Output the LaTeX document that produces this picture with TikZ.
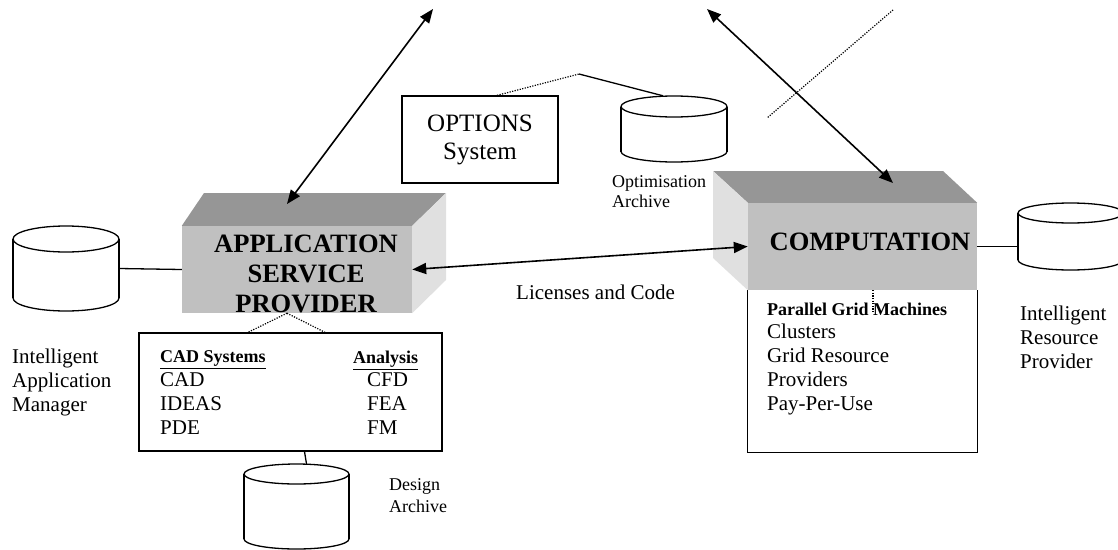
\documentclass[tikz,border=0pt]{standalone}
\usepackage{fontspec}
\setmainfont{Liberation Serif}
\usetikzlibrary{arrows.meta}
\definecolor{facegray}{RGB}{192,192,192}
\definecolor{topgray}{RGB}{150,150,150}
\definecolor{sidegray}{RGB}{224,224,224}
% database drum: name, centre x, centre y, width, height, rim radius
\newcommand\dbcyl[6]{%
  \node[minimum width=#4pt,minimum height=#5pt,inner sep=0pt] (#1) at (#2,#3) {};
  \fill[white] ({#2-#4/2},{#3-#5/2+#6}) rectangle ({#2+#4/2},{#3+#5/2-#6});
  \fill[white] (#2,{#3+#5/2-#6}) ellipse [x radius=#4/2, y radius=#6];
  \begin{scope}
    \clip ({#2-#4/2-2},{#3+#5/2-#6}) rectangle ({#2+#4/2+2},{#3+#5/2+2});
    \draw[link] (#2,{#3+#5/2-#6}) ellipse [x radius=#4/2, y radius=#6];
  \end{scope}
  \draw[link] ({#2-#4/2},{#3-#5/2+#6}) -- ({#2-#4/2},{#3+#5/2-#6});
  \draw[link] ({#2+#4/2},{#3-#5/2+#6}) -- ({#2+#4/2},{#3+#5/2-#6});
  \draw[link] (#2,{#3-#5/2+#6}) ellipse [x radius=#4/2, y radius=#6];
}
\begin{document}
\begin{tikzpicture}[x=1pt,y=-1pt,
    txt/.style={font=\fontsize{21}{24}\selectfont,align=left,inner sep=0pt,anchor=north west},
    small/.style={font=\fontsize{18}{21}\selectfont,align=left,inner sep=0pt,anchor=north west},
    head/.style={font=\fontsize{18}{21}\selectfont\bfseries,inner sep=0pt,anchor=north west},
    title/.style={font=\fontsize{26.5}{30}\selectfont\bfseries,align=center,inner sep=0pt},
    face/.style={rectangle,fill=facegray,inner sep=0pt},
    link/.style={line width=1.3pt},
    dots/.style={line width=1.2pt,dash pattern=on 1.2pt off 1.4pt},
    both/.style={line width=1.6pt,{Triangle[length=14pt,width=11pt]}-{Triangle[length=14pt,width=11pt]}}]
  \useasboundingbox (0,0) rectangle (1118,549);

  % application service provider
  \node[face,minimum width=230pt,minimum height=87pt] (aps) at (297,269.5) {};
  \fill[topgray] (aps.north west) -- (204,193) -- (446,193) -- (aps.north east) -- cycle;
  \fill[sidegray] (aps.north east) -- (446,193) -- (446,280) -- (aps.south east) -- cycle;
  \node[title,anchor=north] (apstitle) at (306,234.5) {APPLICATION\\SERVICE\\PROVIDER};

  % computation
  \node[minimum width=229pt,minimum height=162pt,inner sep=0pt] (grid) at (862.5,371) {};
  \draw[link] (grid.north west) |- (grid.south east) -- (grid.north east);
  \node[face,minimum width=229pt,minimum height=87pt] (comp) at (862.5,246.5) {};
  \fill[topgray] (713,171) -- (943,171) -- (comp.north east) -- (comp.north west) -- cycle;
  \fill[sidegray] (713,171) -- (comp.north west) -- (comp.south west) -- (713,258) -- cycle;
  \node[title,anchor=base] (comptitle) at (870,250) {COMPUTATION};
  \node[txt,font=\fontsize{21}{23.8}\selectfont] (gridtext) at (767,302.5)
    {{\fontsize{18}{24}\selectfont\bfseries Parallel Grid Machines}\\Clusters\\Grid Resource\\Providers\\Pay-Per-Use};
  \draw[dots] ([xshift=10.5pt]comp.south) -- ([xshift=10.5pt,yshift=-23pt]comp.south);

  % databases
  \dbcyl{iam}{66}{268.5}{106}{85}{13}
  \dbcyl{irp}{1070.5}{236.5}{105}{67}{10}
  \dbcyl{oarch}{674}{129}{106}{66}{10.5}
  \dbcyl{design}{296.5}{506.5}{105}{85}{10}
  \draw[link] (iam.east) -- (aps.west);
  \draw[link] (comp.east) -- (comp.east -| irp.west);

  \node[txt] (iamlbl) at (12,348.7) {Intelligent\\Application\\Manager};
  \node[txt] (irplbl) at (1020,305.7) {Intelligent\\Resource\\Provider};
  \node[small,font=\fontsize{18}{20}\selectfont] (oarchlbl) at (612,175.7) {Optimisation\\Archive};
  \node[small,font=\fontsize{18}{22}\selectfont] (designlbl) at (389,478.7) {Design\\Archive};

  % cad box
  \node[draw,line width=1.3pt,minimum width=303pt,minimum height=118pt,inner sep=0pt] (cad) at (290.5,392) {};
  \node[head] (cadhead) at (160,350.8) {\underline{CAD Systems}};
  \node[head] (anahead) at (353,350.8) {\underline{Analysis}};
  \node[txt] (cadlist) at (160,372) {CAD\\IDEAS\\PDE};
  \node[txt] (analist) at (367,372) {CFD\\FEA\\FM};
  \draw[dots] ([xshift=-10pt]aps.south) -- ([xshift=-42.5pt]cad.north);
  \draw[dots] ([xshift=-10pt]aps.south) -- ([xshift=34.5pt]cad.north);
  \draw[link] ([xshift=14pt]cad.south) -- ([xshift=10pt]design.north);

  % options system
  \node[draw,line width=1.3pt,minimum width=156pt,minimum height=87pt,inner sep=0pt,
    font=\fontsize{25}{28}\selectfont,align=center] (opt) at (480,139.5) {OPTIONS\\System};
  \coordinate (bend) at (579,74);
  \draw[dots] ([xshift=17pt]opt.north) -- (bend);
  \draw[link] (bend) -- ([xshift=-11pt]oarch.north);

  % links
  \coordinate (upl) at (433,9);
  \coordinate (apstop) at (287,204);
  \coordinate (upr) at (707,9);
  \coordinate (comptop) at (893,183);
  \coordinate (crossa) at (893,10);
  \coordinate (crossb) at (767,118);
  \draw[both] (upl) -- (apstop);
  \draw[both] (upr) -- (comptop);
  \draw[dots] (crossa) -- (crossb);
  \draw[both] (aps.east) -- (comp.west);
  \node[txt] (lic) at (516,284.7) {Licenses and Code};
\end{tikzpicture}
\end{document}
